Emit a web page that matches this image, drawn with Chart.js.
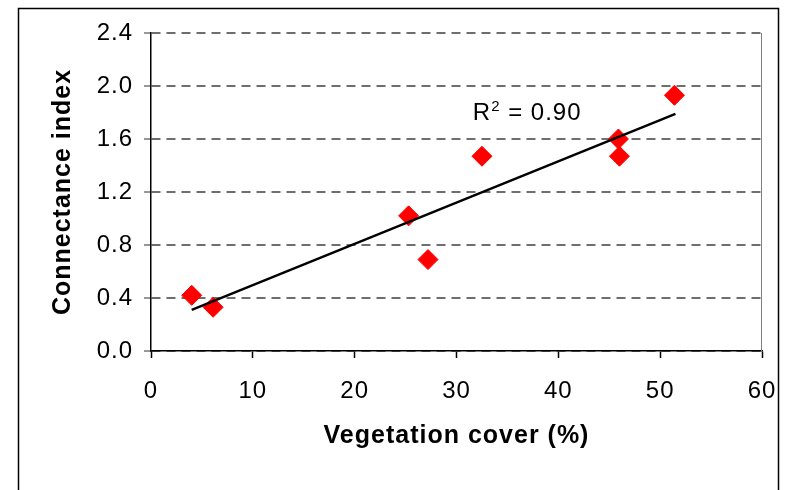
<!DOCTYPE html>
<html>
<head>
<meta charset="utf-8">
<script src="https://cdn.jsdelivr.net/npm/chart.js@4.4.0/dist/chart.umd.min.js"></script>
<style>
    html, body { margin: 0; padding: 0; background: #fff; }
    #wrap { width: 785px; height: 490px; }
</style>
</head>
<body>
<div id="wrap"><canvas id="vegChart" width="785" height="490"></canvas></div>
<script>
// Vegetation cover (%) vs connectance index
const vegCover = [4.0, 6.1, 25.3, 27.2, 32.5, 45.9, 46.0, 51.4];
const connectance = [0.42, 0.33, 1.02, 0.69, 1.47, 1.60, 1.47, 1.93];

// linear trend line end points
const trendX = [4.0, 51.5];
const trendY = [0.31, 1.79];

const xTicks = [0, 10, 20, 30, 40, 50, 60];
const yTicks = [0.0, 0.4, 0.8, 1.2, 1.6, 2.0, 2.4];

const fitText = ['R', '2', ' = 0.90'];
const fitTextAt = [31.6, 1.74]; // in data units

const FONT = "'Liberation Sans', Arial, sans-serif";

function setSpacing(chart) {
    chart.ctx.letterSpacing = '1px';
}

// outer frame, right border of plot and the R² text
const decorations = {
    id: 'decorations',
    beforeUpdate(chart) { setSpacing(chart); },
    beforeDraw(chart) {
        const ctx = chart.ctx;
        setSpacing(chart);
        ctx.save();
        ctx.fillStyle = '#fff';
        ctx.fillRect(0, 0, chart.width, chart.height);
        ctx.strokeStyle = '#000';
        ctx.lineWidth = 1.5;
        ctx.strokeRect(18.5, 8.5, 760, 500);
        ctx.restore();
    },
    afterDraw(chart) {
        const ctx = chart.ctx;
        const area = chart.chartArea;
        ctx.save();
        ctx.strokeStyle = '#808080';
        ctx.lineWidth = 1;
        ctx.beginPath();
        ctx.moveTo(Math.round(area.right) - 0.5, area.top);
        ctx.lineTo(Math.round(area.right) - 0.5, area.bottom);
        ctx.stroke();

        const x = chart.scales.x.getPixelForValue(fitTextAt[0]);
        const y = chart.scales.y.getPixelForValue(fitTextAt[1]);
        ctx.letterSpacing = '1px';
        ctx.fillStyle = '#000';
        ctx.textBaseline = 'alphabetic';
        ctx.textAlign = 'left';
        ctx.font = '24px ' + FONT;
        ctx.fillText(fitText[0], x, y);
        let w = ctx.measureText(fitText[0]).width;
        ctx.font = '15px ' + FONT;
        ctx.fillText(fitText[1], x + w, y - 9);
        w += ctx.measureText(fitText[1]).width;
        ctx.font = '24px ' + FONT;
        ctx.fillText(fitText[2], x + w, y);
        ctx.restore();
    }
};

const ctx = document.getElementById('vegChart').getContext('2d');

new Chart(ctx, {
    type: 'scatter',
    data: {
        datasets: [
            {
                label: 'Trend',
                data: trendX.map((x, i) => ({x: x, y: trendY[i]})),
                showLine: true,
                borderColor: '#000',
                borderWidth: 2.4,
                pointRadius: 0,
                fill: false
            },
            {
                label: 'Connectance',
                data: vegCover.map((x, i) => ({x: x, y: connectance[i]})),
                pointStyle: 'rectRot',
                pointRadius: 10,
                pointBackgroundColor: '#ff0000',
                pointBorderColor: '#ff0000',
                pointBorderWidth: 1
            }
        ]
    },
    options: {
        responsive: false,
        animation: false,
        layout: {
            padding: {left: 0, top: 33, right: 23, bottom: 39}
        },
        plugins: {
            legend: {display: false},
            tooltip: {enabled: false}
        },
        scales: {
            x: {
                type: 'linear',
                min: 0,
                max: 60,
                afterBuildTicks: scale => { scale.ticks = xTicks.map(v => ({value: v})); },
                afterFit: scale => {
                    scale.height = 100;
                    scale.paddingLeft = 0;
                    scale.paddingRight = 0;
                },
                ticks: {
                    color: '#000',
                    padding: 19,
                    font: {family: FONT, size: 24}
                },
                grid: {
                    drawOnChartArea: false,
                    drawTicks: true,
                    tickLength: 7,
                    tickColor: '#000',
                    tickWidth: 1.5
                },
                border: {color: '#000', width: 1.5},
                title: {
                    display: true,
                    text: 'Vegetation cover (%)',
                    color: '#000',
                    padding: {top: 0, bottom: 0},
                    font: {family: FONT, size: 25, weight: 'bold'}
                }
            },
            y: {
                type: 'linear',
                min: 0,
                max: 2.4,
                afterBuildTicks: scale => { scale.ticks = yTicks.map(v => ({value: v})); },
                afterFit: scale => { scale.width = 151; },
                ticks: {
                    color: '#000',
                    padding: 11,
                    font: {family: FONT, size: 24},
                    callback: v => v.toFixed(1)
                },
                grid: {
                    color: '#6e6e6e',
                    lineWidth: 2,
                    tickLength: 7,
                    tickColor: '#333',
                    tickWidth: 1
                },
                border: {color: '#000', width: 1.5, dash: [9, 6]},
                title: {
                    display: true,
                    text: 'Connectance index',
                    color: '#000',
                    padding: {top: 48, bottom: 0},
                    font: {family: FONT, size: 25, weight: 'bold'}
                }
            }
        }
    },
    plugins: [decorations]
});
</script>
</body>
</html>
